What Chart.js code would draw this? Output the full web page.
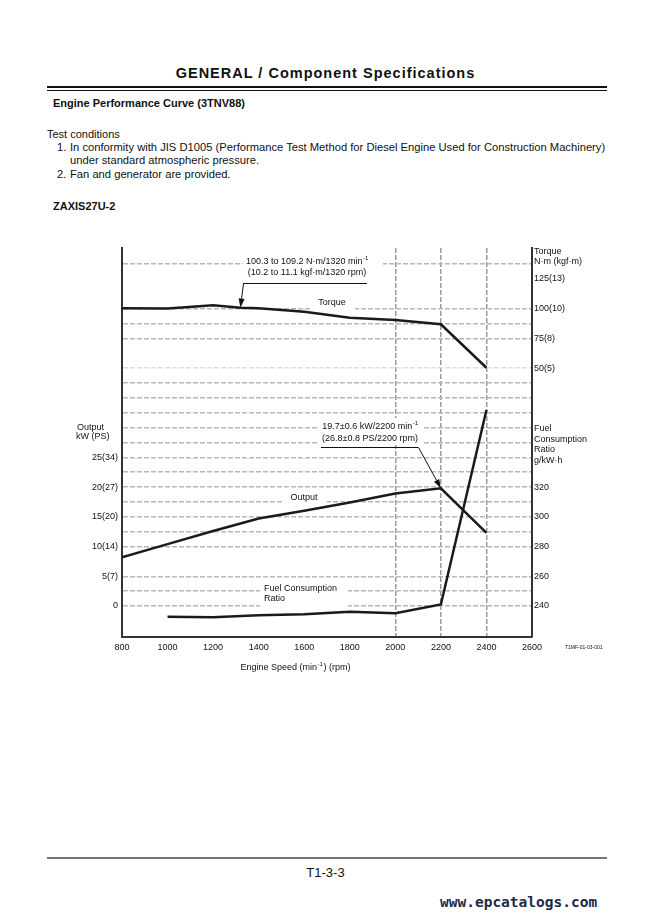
<!DOCTYPE html>
<html>
<head>
<meta charset="utf-8">
<script src="https://cdn.jsdelivr.net/npm/chart.js@4.4.1/dist/chart.umd.min.js"></script>
<style>
  body { margin: 0; background: #fff; }
  #page { position: relative; width: 651px; height: 919px; overflow: hidden; font-family: "Liberation Sans", Arial, sans-serif; color: #111; }
  .t { position: absolute; white-space: nowrap; }
  .rule { position: absolute; background: #111; }
  #wrap { position: absolute; left: 0; top: 230px; width: 651px; height: 460px; }
</style>
</head>
<body>
<div id="page">
  <div class="t" style="left:0;width:651px;text-align:center;top:65px;font-size:14.5px;line-height:17px;font-weight:bold;letter-spacing:1px">GENERAL / Component Specifications</div>
  <div class="rule" style="left:47px;top:86px;width:560px;height:2px"></div>
  <div class="rule" style="left:47px;top:90px;width:560px;height:1px"></div>
  <div class="t" style="left:53px;top:97px;font-size:11px;line-height:13px;font-weight:bold">Engine Performance Curve (3TNV88)</div>
  <div class="t" style="left:47px;top:128px;font-size:11px;line-height:13px">Test conditions</div>
  <div class="t" style="left:57px;top:141px;font-size:11.2px;line-height:13px">1.</div>
  <div class="t" style="left:70px;top:141px;font-size:11.2px;line-height:13px">In conformity with JIS D1005 (Performance Test Method for Diesel Engine Used for Construction Machinery)</div>
  <div class="t" style="left:70px;top:154px;font-size:11.2px;line-height:13px">under standard atmospheric pressure.</div>
  <div class="t" style="left:57px;top:168px;font-size:11.2px;line-height:13px">2.</div>
  <div class="t" style="left:70px;top:168px;font-size:11.2px;line-height:13px">Fan and generator are provided.</div>
  <div class="t" style="left:53px;top:200px;font-size:11px;line-height:13px;font-weight:bold">ZAXIS27U-2</div>

  <div id="wrap"><canvas id="c" width="651" height="460"></canvas></div>

  <div class="rule" style="left:47px;top:857px;width:560px;height:1.5px;background:#777"></div>
  <div class="t" style="left:0;width:651px;text-align:center;top:865px;font-size:13px;line-height:16px">T1-3-3</div>
  <div class="t" style="left:440px;top:893px;font-size:14.5px;line-height:18px;font-family:'DejaVu Sans Mono',monospace;font-weight:bold;color:#1c2a48">www.epcatalogs.com</div>
</div>

<script>
// engine speed (rpm) and curves
const torqueRpm = [800, 1000, 1200, 1320, 1400, 1600, 1800, 2000, 2200, 2400];
const torque = [100.3, 100, 102.8, 100.8, 100.2, 97.4, 92.4, 90.4, 86.8, 50.3];   // N·m
const outputRpm = [800, 1000, 1200, 1400, 1600, 1800, 2000, 2200, 2400];
const output = [8.2, 10.4, 12.6, 14.7, 16.0, 17.4, 18.9, 19.8, 12.3];              // kW
const fuelRpm = [1000, 1200, 1400, 1600, 1800, 2000, 2200, 2400];
const fuel = [232.8, 232.5, 233.8, 234.5, 236.2, 235.2, 241, 371.8];             // g/kW·h

const xTicks = [800, 1000, 1200, 1400, 1600, 1800, 2000, 2200, 2400, 2600];
const xGrid = [2000, 2200, 2400];
const outputTicks = [0, 5, 10, 15, 20, 25];
const outputTickLabels = ['0', '5(7)', '10(14)', '15(20)', '20(27)', '25(34)'];
const fuelTicks = [240, 260, 280, 300, 320];
const torqueTicks = [50, 75, 100, 125];
const torqueTickLabels = ['50(5)', '75(8)', '100(10)', '125(13)'];
// horizontal grid lines, in kW units of the left axis
const gridKW = [0, 2.5, 5, 10, 12.5, 15, 17.5, 20, 22.5, 25, 27.5, 30, 32.5, 35, 37.5, 40, 45, 47.5, 50, 57.5];
const faintKW = [40];

const FONT = '"Liberation Sans", Arial, sans-serif';
const ink = '#111';

const pts = (xs, ys) => xs.map((x, i) => ({ x: x, y: ys[i] }));

function supLine(ctx, main, sup, tail, x, y, align) {
  ctx.font = '9px ' + FONT;
  const w1 = ctx.measureText(main).width;
  ctx.font = '6px ' + FONT;
  const w2 = ctx.measureText(sup).width;
  ctx.font = '9px ' + FONT;
  const w3 = ctx.measureText(tail).width;
  let sx = align === 'center' ? x - (w1 + w2 + w3) / 2 : x;
  ctx.textAlign = 'left';
  ctx.textBaseline = 'middle';
  ctx.fillText(main, sx, y);
  ctx.font = '6px ' + FONT;
  ctx.fillText(sup, sx + w1 + 0.5, y - 3.5);
  ctx.font = '9px ' + FONT;
  ctx.fillText(tail, sx + w1 + w2 + 1, y);
}

function arrow(ctx, x1, y1, x2, y2) {
  const a = Math.atan2(y2 - y1, x2 - x1);
  const len = 9, hw = 3;
  ctx.beginPath();
  ctx.moveTo(x1, y1);
  ctx.lineTo(x2 - Math.cos(a) * len, y2 - Math.sin(a) * len);
  ctx.stroke();
  ctx.beginPath();
  ctx.moveTo(x2, y2);
  ctx.lineTo(x2 - Math.cos(a) * len - Math.sin(a) * hw, y2 - Math.sin(a) * len + Math.cos(a) * hw);
  ctx.lineTo(x2 - Math.cos(a) * len + Math.sin(a) * hw, y2 - Math.sin(a) * len - Math.cos(a) * hw);
  ctx.closePath();
  ctx.fill();
}

const notes = {
  id: 'notes',
  afterLayout(chart) {
    // torque axis takes no room in the layout, but its labels sit over the fuel axis
    const yT = chart.scales.yT;
    yT.right = chart.chartArea.right + 119;
    yT.width = 119;
  },
  beforeDatasetsDraw(chart) {
    const ctx = chart.ctx;
    ctx.save();
    ctx.fillStyle = '#fff';
    ctx.fillRect(243, 24, 140, 26);   // torque spec box
    ctx.fillRect(310, 66, 45, 15);    // "Torque"
    ctx.fillRect(318, 188, 104, 27);  // output spec box
    ctx.fillRect(282, 262, 45, 13);   // "Output"
    ctx.fillRect(260, 353, 88, 27);   // "Fuel Consumption Ratio"
    ctx.fillStyle = ink;
    ctx.textBaseline = 'middle';
    ctx.font = '9px ' + FONT;
    ctx.textAlign = 'center';
    ctx.fillText('Torque', 332, 73);
    ctx.fillText('Output', 304, 268);
    ctx.textAlign = 'left';
    ctx.fillText('Fuel Consumption', 264, 359);
    ctx.fillText('Ratio', 264, 369);
    supLine(ctx, '100.3 to 109.2 N·m/1320 min', '-1', '', 307, 32, 'center');
    ctx.textAlign = 'center';
    ctx.fillText('(10.2 to 11.1 kgf·m/1320 rpm)', 307, 43);
    supLine(ctx, '19.7±0.6 kW/2200 min', '-1', '', 370, 197, 'center');
    ctx.textAlign = 'center';
    ctx.fillText('(26.8±0.8 PS/2200 rpm)', 370, 209);
    ctx.restore();
  },
  afterDraw(chart) {
    const ctx = chart.ctx;
    const s = chart.scales;
    ctx.save();
    ctx.strokeStyle = ink;
    ctx.fillStyle = ink;
    ctx.lineWidth = 1;
    // torque leader
    ctx.beginPath(); ctx.moveTo(243, 53.5); ctx.lineTo(367, 53.5); ctx.stroke();
    arrow(ctx, 243.5, 53.5, s.x.getPixelForValue(1320), s.yT.getPixelForValue(torque[3]));
    // output leader
    ctx.beginPath(); ctx.moveTo(321, 217.5); ctx.lineTo(418.5, 217.5); ctx.stroke();
    arrow(ctx, 418.5, 217.5, s.x.getPixelForValue(2200), s.y.getPixelForValue(output[7]));

    ctx.textBaseline = 'middle';
    ctx.textAlign = 'left';
    ctx.font = '9px ' + FONT;
    ctx.fillText('Torque', 534, 22);
    ctx.fillText('N·m (kgf·m)', 534, 32);
    ctx.fillText('Fuel', 534, 199);
    ctx.fillText('Consumption', 534, 210);
    ctx.fillText('Ratio', 534, 220);
    ctx.fillText('g/kW·h', 534, 231);
    ctx.fillText('Output', 77, 198);
    ctx.fillText('kW (PS)', 76, 207);
    supLine(ctx, 'Engine Speed (min', '-1', ') (rpm)', 295, 438, 'center');
    ctx.font = '5px ' + FONT;
    ctx.textAlign = 'left';
    ctx.fillText('T1MF-01-03-001', 565, 418);
    ctx.restore();
  }
};

const lineStyle = { borderColor: '#1a1a1a', borderWidth: 2.5, pointRadius: 0, tension: 0, fill: false };

new Chart(document.getElementById('c'), {
  type: 'line',
  data: {
    datasets: [
      Object.assign({ label: 'Torque', data: pts(torqueRpm, torque), yAxisID: 'yT' }, lineStyle),
      Object.assign({ label: 'Output', data: pts(outputRpm, output), yAxisID: 'y' }, lineStyle),
      Object.assign({ label: 'Fuel Consumption Ratio', data: pts(fuelRpm, fuel), yAxisID: 'yF' }, lineStyle)
    ]
  },
  options: {
    responsive: false,
    animation: false,
    layout: { padding: { top: 18, left: 0, right: 0, bottom: 0 } },
    plugins: { legend: { display: false }, tooltip: { enabled: false } },
    scales: {
      x: {
        type: 'linear', min: 800, max: 2600,
        afterBuildTicks: (sc) => { sc.ticks = xTicks.map(v => ({ value: v })); },
        afterFit: (sc) => { sc.height = 53.3; },
        grid: {
          color: (c) => xGrid.includes(c.tick && c.tick.value) ? '#9a9a9a' : 'rgba(0,0,0,0)',
          lineWidth: 1.5, drawTicks: false
        },
        border: { color: '#333', width: 2, dash: [5, 2] },
        ticks: {
          color: ink, font: { family: FONT, size: 9 }, padding: 5, autoSkip: false, maxRotation: 0,
          callback: (v) => String(v)
        }
      },
      y: {
        position: 'left', min: -5.16, max: 60.19,
        afterBuildTicks: (sc) => { sc.ticks = gridKW.map(v => ({ value: v })); },
        afterFit: (sc) => { sc.width = 122; },
        grid: {
          color: (c) => faintKW.includes(c.tick && c.tick.value) ? '#dedede' : '#b8b8b8',
          lineWidth: 1.5, drawTicks: false
        },
        border: { color: '#333', width: 2, dash: [5, 2] },
        ticks: {
          color: ink, font: { family: FONT, size: 9 }, padding: 4, autoSkip: false,
          callback: (v) => { const i = outputTicks.indexOf(v); return i >= 0 ? outputTickLabels[i] : ''; }
        }
      },
      yT: {
        position: 'right', weight: 0, min: -175.8, max: 150.94,
        afterBuildTicks: (sc) => { sc.ticks = torqueTicks.map(v => ({ value: v })); },
        afterFit: (sc) => { sc.width = 0; },
        grid: { drawOnChartArea: false, drawTicks: false },
        border: { display: false },
        ticks: {
          color: ink, font: { family: FONT, size: 9 }, padding: 2, autoSkip: false,
          callback: (v) => torqueTickLabels[torqueTicks.indexOf(v)]
        }
      },
      yF: {
        position: 'right', weight: 1, min: 219.35, max: 480.75,
        afterBuildTicks: (sc) => { sc.ticks = fuelTicks.map(v => ({ value: v })); },
        afterFit: (sc) => { sc.width = 119; },
        grid: { drawOnChartArea: false, drawTicks: false },
        border: { color: '#333', width: 2 },
        ticks: { color: ink, font: { family: FONT, size: 9 }, padding: 2, autoSkip: false }
      }
    }
  },
  plugins: [notes]
});
</script>
</body>
</html>
